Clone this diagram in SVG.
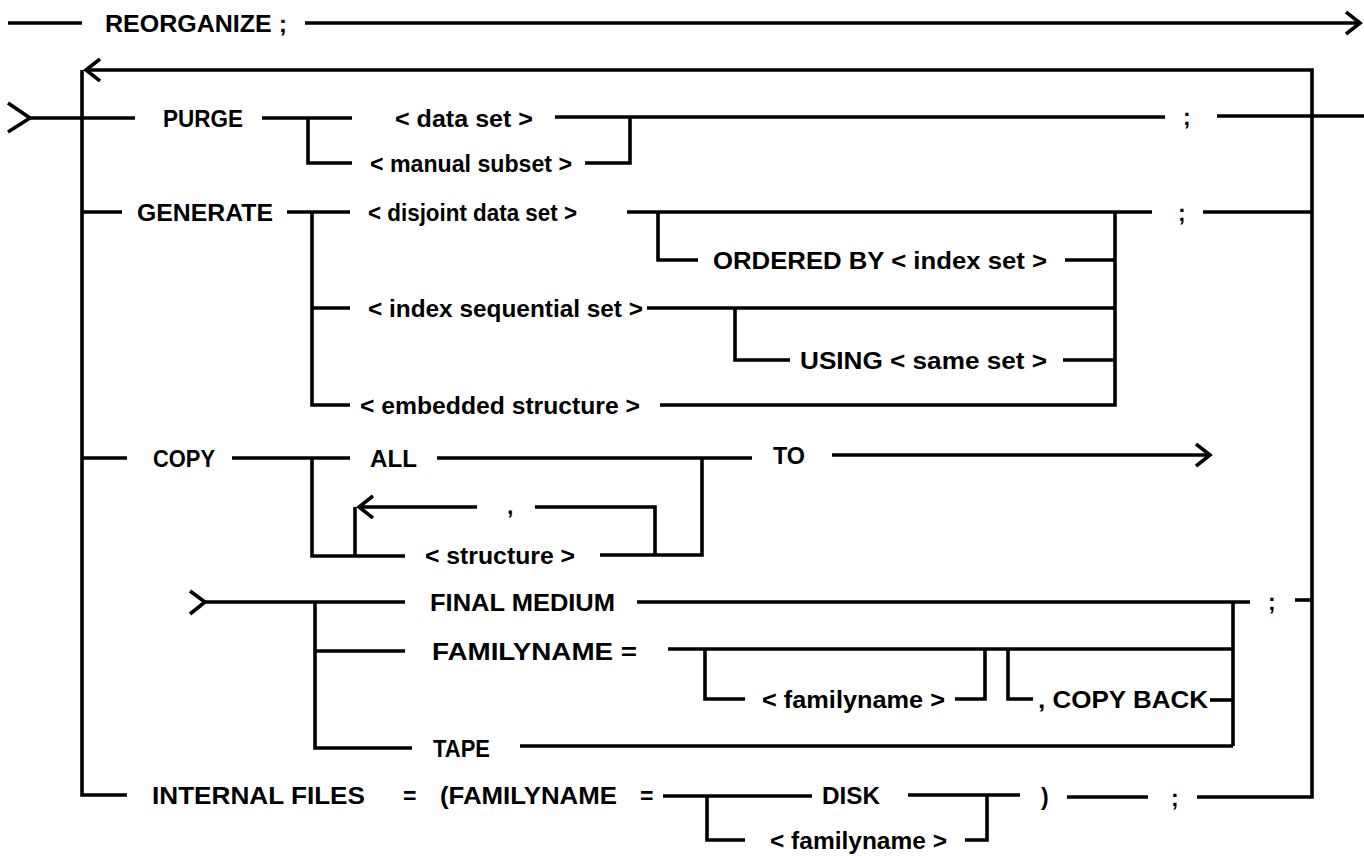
<svg xmlns="http://www.w3.org/2000/svg" width="1364" height="856" viewBox="0 0 1364 856">
<defs>
<style>
.c{fill:none;stroke:#000;stroke-width:3.6;stroke-linecap:butt;stroke-linejoin:miter}
.t{font-family:"Liberation Sans",Arial,sans-serif;font-weight:bold;font-size:23px;fill:#000}
</style>
<marker id="ah" markerUnits="userSpaceOnUse" markerWidth="20" markerHeight="28" refX="15" refY="12" orient="auto" viewBox="0 0 20 28">
<path d="M1,1 L15,12 L1,23" fill="none" stroke="#000" stroke-width="3.6"/>
</marker>
</defs>
<rect width="1364" height="856" fill="#fff"/>
<g id="connectors">
<path class="c" d="M8,23 H82"/>
<path class="c" d="M305,23 H1360" marker-end="url(#ah)"/>
<path class="c" d="M1197,797 H1312 V70 H86" marker-end="url(#ah)"/>
<path class="c" d="M82,70 V795 H127"/>
<path class="c" d="M8,103 L30,118 L8,132"/>
<path class="c" d="M30,118 H135"/>
<path class="c" d="M262,118 H352"/>
<path class="c" d="M308,118 V163 H352"/>
<path class="c" d="M555,117 H1165"/>
<path class="c" d="M585,163 H630 V117"/>
<path class="c" d="M1217,116 H1364"/>
<path class="c" d="M82,212 H122"/>
<path class="c" d="M287,212 H350"/>
<path class="c" d="M312,212 V405 H350"/>
<path class="c" d="M312,308 H350"/>
<path class="c" d="M627,212 H1152"/>
<path class="c" d="M658,212 V260 H698"/>
<path class="c" d="M1065,260 H1115"/>
<path class="c" d="M647,308 H1115"/>
<path class="c" d="M735,308 V360 H790"/>
<path class="c" d="M1063,360 H1115"/>
<path class="c" d="M660,405 H1115 V212"/>
<path class="c" d="M1203,212 H1312"/>
<path class="c" d="M82,458 H127"/>
<path class="c" d="M232,458 H350"/>
<path class="c" d="M312,458 V556 H405"/>
<path class="c" d="M437,458 H752"/>
<path class="c" d="M600,555 H702 V458"/>
<path class="c" d="M832,455 H1210" marker-end="url(#ah)"/>
<path class="c" d="M477,507 H359" marker-end="url(#ah)"/>
<path class="c" d="M355,507 V556"/>
<path class="c" d="M535,507 H655 V555"/>
<path class="c" d="M190,591 L205,602 L190,614"/>
<path class="c" d="M205,602 H405"/>
<path class="c" d="M315,602 V748 H412"/>
<path class="c" d="M315,651 H405"/>
<path class="c" d="M637,602 H1250"/>
<path class="c" d="M1233,602 V746"/>
<path class="c" d="M1295,600 H1312"/>
<path class="c" d="M668,649 H1233"/>
<path class="c" d="M705,649 V699 H745"/>
<path class="c" d="M955,699 H985 V649"/>
<path class="c" d="M1008,649 V699 H1033"/>
<path class="c" d="M1210,700 H1233"/>
<path class="c" d="M520,746 H1233"/>
<path class="c" d="M663,796 H812"/>
<path class="c" d="M707,796 V840 H745"/>
<path class="c" d="M908,795 H1020"/>
<path class="c" d="M965,840 H987 V795"/>
<path class="c" d="M1067,797 H1148"/>
</g>
<g id="n-reorganize"><text class="t" x="105" y="32" textLength="182" lengthAdjust="spacingAndGlyphs">REORGANIZE ;</text></g>
<g id="n-purge"><text class="t" x="163" y="127" textLength="80" lengthAdjust="spacingAndGlyphs">PURGE</text></g>
<g id="n-dataset"><text class="t" x="395" y="127" textLength="138" lengthAdjust="spacingAndGlyphs">&lt; data set &gt;</text></g>
<g id="n-manualsubset"><text class="t" x="370" y="172" textLength="202" lengthAdjust="spacingAndGlyphs">&lt; manual subset &gt;</text></g>
<g id="n-semi1"><text class="t" x="1183" y="125">;</text></g>
<g id="n-generate"><text class="t" x="137" y="221" textLength="136" lengthAdjust="spacingAndGlyphs">GENERATE</text></g>
<g id="n-disjoint"><text class="t" x="368" y="221" textLength="209" lengthAdjust="spacingAndGlyphs">&lt; disjoint data set &gt;</text></g>
<g id="n-orderedby"><text class="t" x="713" y="269" textLength="334" lengthAdjust="spacingAndGlyphs">ORDERED BY &lt; index set &gt;</text></g>
<g id="n-semi2"><text class="t" x="1178" y="221">;</text></g>
<g id="n-indexseq"><text class="t" x="368" y="317" textLength="275" lengthAdjust="spacingAndGlyphs">&lt; index sequential set &gt;</text></g>
<g id="n-using"><text class="t" x="800" y="369" textLength="247" lengthAdjust="spacingAndGlyphs">USING &lt; same set &gt;</text></g>
<g id="n-embedded"><text class="t" x="360" y="414" textLength="280" lengthAdjust="spacingAndGlyphs">&lt; embedded structure &gt;</text></g>
<g id="n-copy"><text class="t" x="153" y="467" textLength="62" lengthAdjust="spacingAndGlyphs">COPY</text></g>
<g id="n-all"><text class="t" x="370" y="467" textLength="47" lengthAdjust="spacingAndGlyphs">ALL</text></g>
<g id="n-to"><text class="t" x="773" y="464" textLength="32" lengthAdjust="spacingAndGlyphs">TO</text></g>
<g id="n-comma"><text class="t" x="507" y="514">,</text></g>
<g id="n-structure"><text class="t" x="425" y="564" textLength="150" lengthAdjust="spacingAndGlyphs">&lt; structure &gt;</text></g>
<g id="n-finalmedium"><text class="t" x="430" y="611" textLength="185" lengthAdjust="spacingAndGlyphs">FINAL MEDIUM</text></g>
<g id="n-semi3"><text class="t" x="1268" y="610">;</text></g>
<g id="n-familyname"><text class="t" x="432" y="660" textLength="205" lengthAdjust="spacingAndGlyphs">FAMILYNAME  =</text></g>
<g id="n-fname1"><text class="t" x="762" y="708" textLength="183" lengthAdjust="spacingAndGlyphs">&lt; familyname &gt;</text></g>
<g id="n-copyback"><text class="t" x="1038" y="708" textLength="170" lengthAdjust="spacingAndGlyphs">, COPY BACK</text></g>
<g id="n-tape"><text class="t" x="433" y="757" textLength="57" lengthAdjust="spacingAndGlyphs">TAPE</text></g>
<g id="n-internal"><text class="t" x="152" y="804" textLength="213" lengthAdjust="spacingAndGlyphs">INTERNAL FILES</text></g>
<g id="n-eq1"><text class="t" x="403" y="804">=</text></g>
<g id="n-ifamily"><text class="t" x="440" y="804" textLength="177" lengthAdjust="spacingAndGlyphs">(FAMILYNAME</text></g>
<g id="n-eq2"><text class="t" x="640" y="804">=</text></g>
<g id="n-disk"><text class="t" x="822" y="804" textLength="58" lengthAdjust="spacingAndGlyphs">DISK</text></g>
<g id="n-fname2"><text class="t" x="770" y="849" textLength="177" lengthAdjust="spacingAndGlyphs">&lt; familyname &gt;</text></g>
<g id="n-rparen"><text class="t" x="1041" y="805">)</text></g>
<g id="n-semi4"><text class="t" x="1171" y="806">;</text></g>
</svg>
